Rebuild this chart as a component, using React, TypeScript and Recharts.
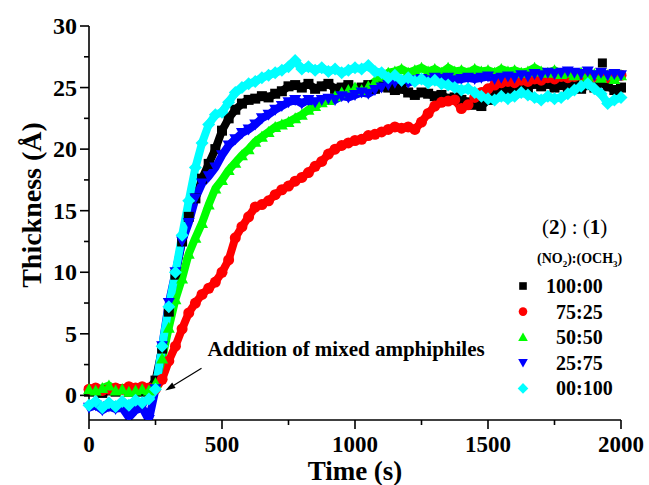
import React from 'react';
import { ComposedChart, Line, Scatter, XAxis, YAxis, ReferenceLine } from 'recharts';

// sample times (s)
const times = [
  0, 25, 50, 75, 100, 125, 150, 175, 200, 225, 250, 275, 300, 325, 350, 375, 400, 425, 450, 475,
  500, 525, 550, 575, 600, 625, 650, 675, 700, 725, 750, 775, 800, 825, 850, 875, 900, 925, 950, 975,
  1000, 1025, 1050, 1075, 1100, 1125, 1150, 1175, 1200, 1225, 1250, 1275, 1300, 1325, 1350, 1375, 1400, 1425, 1450, 1475,
  1500, 1525, 1550, 1575, 1600, 1625, 1650, 1675, 1700, 1725, 1750, 1775, 1800, 1825, 1850, 1875, 1900, 1925, 1950, 1975,
  2000,
];

// thickness (Å) per NO2:OCH3 ratio
const ratio100_00 = [
  0.3, 0.4, 0.2, 0.4, 0.3, 0.5, 0.3, 0.4, 0.3, 0.5, 1.2, 3.8, 6.8, 9.8, 12.5, 14.5, 16.0, 17.6, 18.8, 20.0,
  21.5, 22.5, 23.2, 23.7, 24.0, 24.1, 24.3, 24.2, 24.5, 24.7, 25.1, 25.2, 25.0, 25.3, 24.9, 25.1, 25.3, 24.9, 25.0, 25.2,
  24.8, 25.0, 25.2, 24.9, 25.1, 25.0, 24.8, 24.9, 24.6, 24.4, 24.6, 24.5, 24.3, 24.4, 24.1, 24.2, 24.0, 23.8, 23.6, 23.5,
  24.0, 24.4, 24.6, 24.9, 25.0, 25.2, 25.0, 25.3, 25.1, 25.3, 25.0, 25.2, 25.0, 25.3, 24.9, 25.2, 25.0, 25.4, 25.1, 24.8,
  25.0,
];
const ratio75_25 = [
  0.5, 0.6, 0.4, 0.5, 0.6, 0.5, 0.7, 0.6, 0.7, 0.6, 0.5, 1.3, 2.8, 4.0, 5.4, 6.7, 7.5, 8.2, 8.7, 9.2,
  10.0, 11.0, 12.8, 13.7, 14.5, 15.3, 15.5, 15.8, 16.3, 16.7, 17.0, 17.4, 17.7, 18.1, 18.6, 19.0, 19.6, 20.0, 20.3, 20.5,
  20.7, 20.8, 21.1, 21.2, 21.4, 21.6, 21.8, 21.7, 21.8, 21.6, 22.2, 22.9, 23.5, 23.8, 23.9, 24.0, 23.3, 23.6, 24.2, 24.6,
  24.9, 25.2, 25.4, 25.5, 25.4, 25.6, 25.5, 25.7, 25.6, 25.8, 25.7, 25.9, 25.8, 25.9, 26.0, 25.8, 25.9, 26.0, 25.8, 26.0,
  26.0,
];
const ratio50_50 = [
  0.5, 0.4, 0.6, 0.8, 0.4, 0.5, 0.3, 0.4, 0.5, 0.4, 1.0, 3.0, 5.5, 7.8, 9.5, 11.5, 12.8, 14.0, 15.5, 16.8,
  17.5, 18.3, 18.9, 19.5, 20.0, 20.6, 21.0, 21.4, 21.8, 22.0, 22.2, 22.5, 22.8, 23.2, 23.5, 23.8, 24.0, 24.3, 24.6, 24.8,
  25.0, 24.8, 25.1, 25.5, 25.9, 26.2, 26.3, 26.5, 26.2, 26.4, 26.6, 26.3, 26.5, 26.2, 26.6, 26.3, 26.4, 26.2, 26.5, 26.3,
  26.4, 26.2, 26.5, 26.3, 26.4, 26.2, 26.3, 26.6, 26.3, 26.2, 26.4, 26.1, 26.2, 26.0, 26.2, 25.9, 26.1, 25.8, 26.0, 25.7,
  26.0,
];
const ratio25_75 = [
  -1.0, -0.8, -1.2, -0.9, -1.1, -1.0, -1.8, -1.2, -1.0, -2.0, 0.5, 4.0, 7.5, 10.0, 12.5, 14.0, 16.0, 17.2, 17.8, 18.5,
  19.5, 20.3, 20.8, 21.3, 21.6, 22.0, 22.5, 22.8, 23.2, 23.5, 23.8, 24.0, 23.7, 24.0, 23.8, 24.0, 24.1, 24.0, 24.3, 24.2,
  24.4, 24.6, 24.5, 24.8, 25.0, 25.2, 25.4, 25.5, 25.4, 25.6, 25.7, 25.6, 25.8, 25.7, 25.8, 25.6, 25.7, 25.8, 25.7, 25.8,
  25.9, 25.7, 25.8, 25.9, 25.8, 26.0, 25.9, 26.1, 26.0, 26.2, 26.1, 26.2, 26.3, 26.2, 26.1, 26.3, 26.0, 26.2, 26.0, 26.1,
  26.0,
];
const ratio00_100 = [
  -0.8, -0.5, -1.0, -0.6, -0.9, -0.5, -0.8, -0.4, -0.6, -0.3, 0.5, 4.0, 7.2, 10.0, 13.0, 15.8, 18.5, 20.5, 22.0, 22.8,
  23.0, 23.8, 24.6, 25.0, 25.3, 25.5, 25.8, 26.0, 26.2, 26.4, 26.7, 27.2, 26.5, 26.7, 26.4, 26.6, 26.3, 26.5, 26.2, 26.4,
  26.6, 26.5, 26.8, 26.3, 26.2, 25.8, 26.0, 25.6, 25.8, 25.5, 25.7, 25.4, 25.6, 25.3, 25.2, 25.0, 24.8, 24.9, 24.6, 24.3,
  24.1, 24.0, 24.3, 24.1, 24.3, 24.6, 24.4, 24.2, 24.0, 24.3, 24.1, 24.2, 24.5, 24.8, 25.1, 25.3, 24.9, 24.5, 23.7, 24.0,
  24.2,
];

// stray point of the 100:00 run
const strayTimes = [1930];
const strayValues = [27.0];

const ratioLabels = ['100:00', '75:25', '50:50', '25:75', '00:100'];
const seriesKeys = ['r0', 'r1', 'r2', 'r3', 'r4'];
const seriesValues = [ratio100_00, ratio75_25, ratio50_50, ratio25_75, ratio00_100];
const colors = ['#000000', '#FF0000', '#00FF00', '#0000FF', '#00FFFF'];
const shapes = ['square', 'circle', 'up', 'down', 'diamond'];

const xTicks = [0, 250, 500, 750, 1000, 1250, 1500, 1750, 2000];
const yTicks = [0, 2.5, 5, 7.5, 10, 12.5, 15, 17.5, 20, 22.5, 25, 27.5, 30];

const rows = times.map((t, i) => {
  const row: any = { t };
  seriesKeys.forEach((k, j) => (row[k] = seriesValues[j][i]));
  return row;
});
const strayRows = strayTimes.map((t, i) => ({ t, v: strayValues[i] }));

const FONT = '"Liberation Serif", "Times New Roman", serif';

const Marker = ({ kind, cx, cy, color, s = 5 }: any) => {
  if (cx == null || cy == null) return null;
  switch (kind) {
    case 'square':
      return <rect x={cx - s} y={cy - s} width={2 * s} height={2 * s} fill={color} />;
    case 'circle':
      return <circle cx={cx} cy={cy} r={s + 0.5} fill={color} />;
    case 'up':
      return <path d={`M${cx},${cy - s - 1}L${cx + s + 1},${cy + s}L${cx - s - 1},${cy + s}Z`} fill={color} />;
    case 'down':
      return <path d={`M${cx},${cy + s + 1}L${cx + s + 1},${cy - s}L${cx - s - 1},${cy - s}Z`} fill={color} />;
    default:
      return <path d={`M${cx},${cy - s - 1.5}L${cx + s + 1.5},${cy}L${cx},${cy + s + 1.5}L${cx - s - 1.5},${cy}Z`} fill={color} />;
  }
};

const XTick = ({ x, y, payload }: any) => {
  const major = payload.value % 500 === 0;
  return (
    <g>
      <line x1={x} x2={x} y1={y} y2={y + (major ? 9 : 5)} stroke="#000" strokeWidth={1.6} />
      {major && (
        <text x={x} y={y + 32} textAnchor="middle" fontFamily={FONT} fontWeight="bold" fontSize={23} fill="#000">
          {payload.value}
        </text>
      )}
    </g>
  );
};

const YTick = ({ x, y, payload }: any) => {
  const major = payload.value % 5 === 0;
  return (
    <g>
      <line x1={x} x2={x - (major ? 9 : 5)} y1={y} y2={y} stroke="#000" strokeWidth={1.6} />
      {major && (
        <text x={x - 12} y={y + 8} textAnchor="end" fontFamily={FONT} fontWeight="bold" fontSize={24} fill="#000">
          {payload.value}
        </text>
      )}
    </g>
  );
};

const ArrowNote = ({ x1, y1, x2, y2 }: any) => {
  const ang = Math.atan2(y2 - y1, x2 - x1);
  const len = 10;
  const w = 3.2;
  const bx = x2 - len * Math.cos(ang);
  const by = y2 - len * Math.sin(ang);
  const px = -Math.sin(ang) * w;
  const py = Math.cos(ang) * w;
  return (
    <g>
      <line x1={x1} y1={y1} x2={bx} y2={by} stroke="#000" strokeWidth={1.2} />
      <path d={`M${x2},${y2}L${bx + px},${by + py}L${bx - px},${by - py}Z`} fill="#000" />
      <text x={x1 + 6} y={y1 - 12} fontFamily={FONT} fontWeight="bold" fontSize={21} fill="#000">
        Addition of mixed amphiphiles
      </text>
    </g>
  );
};

const LegendBox = () => (
  <svg width={649} height={485} style={{ position: 'absolute', left: 0, top: 0, pointerEvents: 'none' }}>
    <text x={542} y={234} fontFamily={FONT} fontSize={21} fill="#000">
      (<tspan fontWeight="bold">2</tspan>) : (<tspan fontWeight="bold">1</tspan>)
    </text>
    <text x={537} y={263} fontFamily={FONT} fontWeight="bold" fontSize={14} fill="#000">
      (NO<tspan fontSize={9} dy={4}>2</tspan>
      <tspan dy={-4}>):(OCH</tspan>
      <tspan fontSize={9} dy={4}>3</tspan>
      <tspan dy={-4}>)</tspan>
    </text>
    {ratioLabels.map((label, i) => {
      const cy = 286 + i * 25.6;
      return (
        <g key={label}>
          <Marker kind={shapes[i]} cx={523} cy={cy} color={colors[i]} s={3.8} />
          <text x={i === 0 ? 546 : 556} y={cy + 7} fontFamily={FONT} fontWeight="bold" fontSize={20} fill="#000">
            {label}
          </text>
        </g>
      );
    })}
  </svg>
);

export default function App() {
  return (
    <div style={{ position: 'absolute', left: 0, top: 0, width: 649, height: 485, background: '#fff' }}>
      <ComposedChart width={649} height={485} data={rows} margin={{ top: 26, right: 28, left: 0, bottom: 0 }}>
        <XAxis
          dataKey="t"
          type="number"
          domain={[0, 2000]}
          ticks={xTicks}
          interval={0}
          height={65}
          tickSize={0}
          tickMargin={0}
          tickLine={false}
          axisLine={{ stroke: '#000', strokeWidth: 1.6 }}
          tick={<XTick />}
          label={{
            value: 'Time (s)',
            position: 'insideBottom',
            offset: 5,
            style: { fontFamily: FONT, fontWeight: 'bold', fontSize: 27, fill: '#000' },
          }}
        />
        <YAxis
          type="number"
          domain={[-2, 30]}
          allowDataOverflow
          ticks={yTicks}
          interval={0}
          width={89}
          tickSize={0}
          tickMargin={0}
          tickLine={false}
          axisLine={{ stroke: '#000', strokeWidth: 1.6 }}
          tick={<YTick />}
          label={{
            content: ({ viewBox }: any) => (
              <text
                transform={`translate(${viewBox.x + 41},${205}) rotate(-90)`}
                textAnchor="middle"
                fontFamily={FONT}
                fontWeight="bold"
                fontSize={28}
                fill="#000"
              >
                Thickness (Å)
              </text>
            ),
          }}
        />
        {seriesKeys.map((k, i) => (
          <Line
            key={k}
            dataKey={k}
            name={ratioLabels[i]}
            type="linear"
            stroke={colors[i]}
            strokeWidth={8}
            strokeLinejoin="round"
            isAnimationActive={false}
            dot={(p: any) => <Marker key={`${k}-${p.index}`} kind={shapes[i]} cx={p.cx} cy={p.cy} color={colors[i]} />}
            activeDot={false}
          />
        ))}
        <Scatter
          data={strayRows}
          dataKey="v"
          isAnimationActive={false}
          shape={(p: any) => <Marker kind="square" cx={p.cx} cy={p.cy} color="#000" s={4.5} />}
        />
        <ReferenceLine
          segment={[
            { x: 423, y: 2.2 },
            { x: 287, y: 0.4 },
          ]}
          shape={<ArrowNote />}
        />
      </ComposedChart>
      <LegendBox />
    </div>
  );
}
